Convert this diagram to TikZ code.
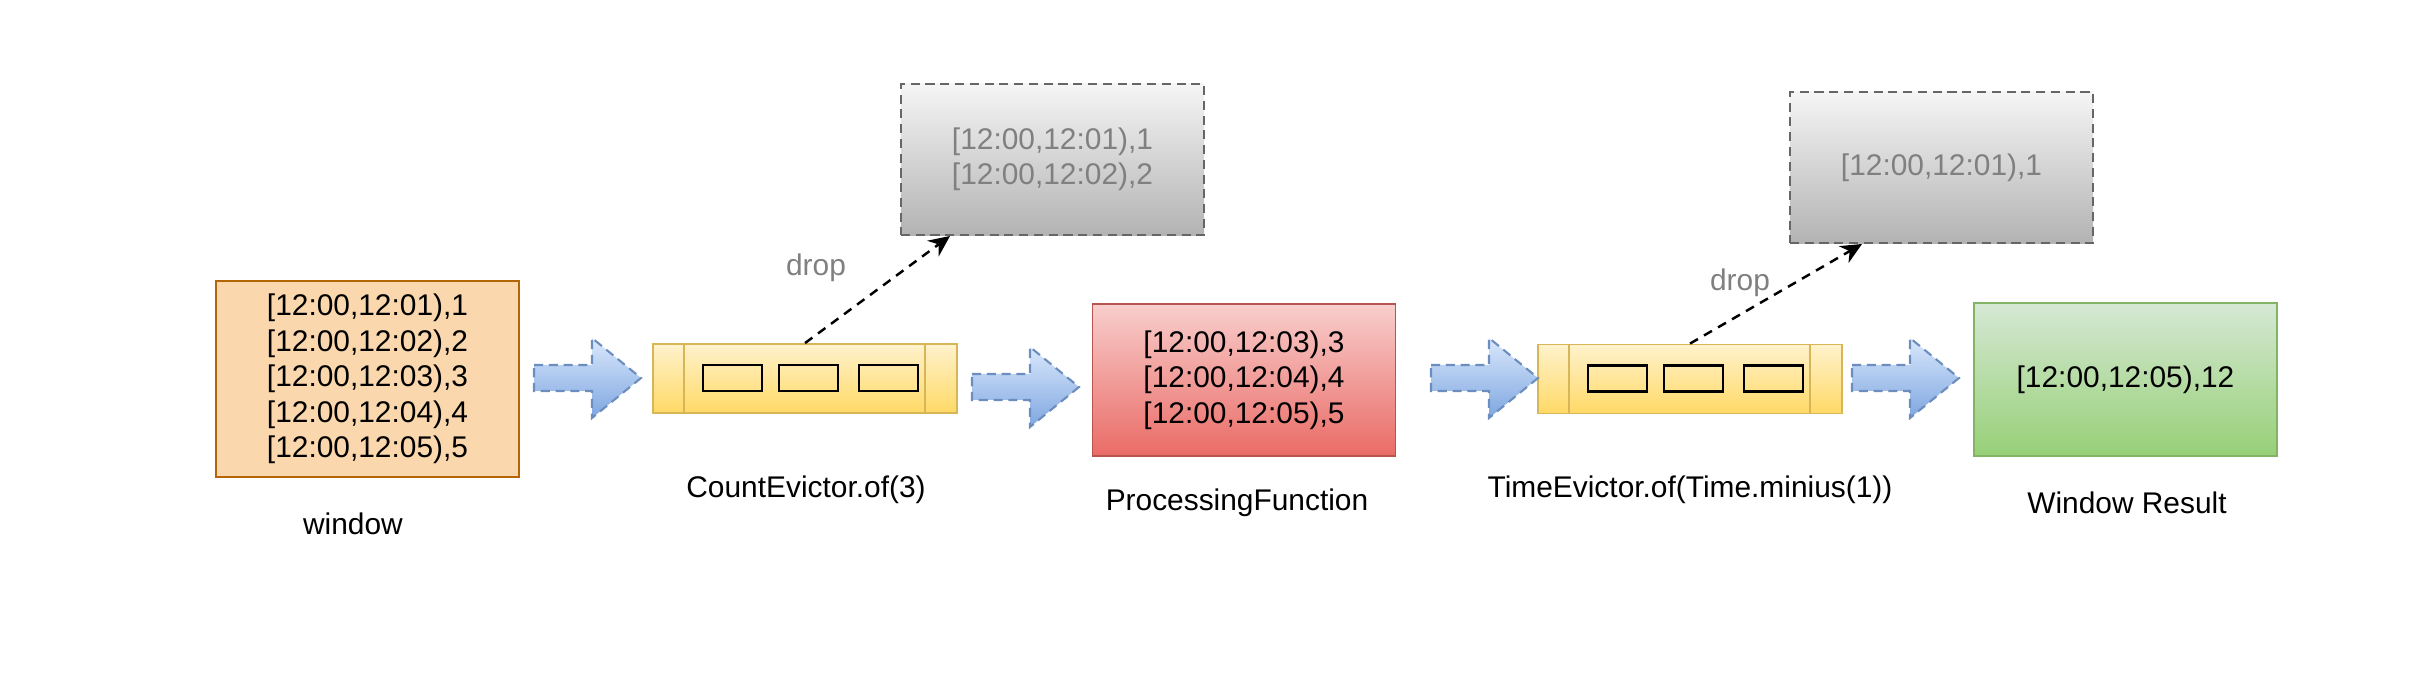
\documentclass[tikz,border=0pt]{standalone}
\usepackage{fontspec}
\setmainfont{Liberation Sans}
\usepackage{xcolor}
\usetikzlibrary{arrows.meta, calc}
\definecolor{ovul}{HTML}{FAD7AC}
\definecolor{orand}{HTML}{B46504}
\definecolor{rtop}{HTML}{F8CECC}
\definecolor{rbod}{HTML}{EA6B66}
\definecolor{rrand}{HTML}{B85450}
\definecolor{gtop}{HTML}{D5E8D4}
\definecolor{gbod}{HTML}{97D077}
\definecolor{grand}{HTML}{82B366}
\definecolor{ytop}{HTML}{FFF2CC}
\definecolor{ybod}{HTML}{FFD966}
\definecolor{yrand}{HTML}{D6B656}
\definecolor{ztop}{HTML}{F5F5F5}
\definecolor{zbod}{HTML}{B3B3B3}
\definecolor{zrand}{HTML}{666666}
\definecolor{ztekst}{HTML}{808080}
\definecolor{btop}{HTML}{DAE8FC}
\definecolor{bbod}{HTML}{7EA6E0}
\definecolor{brand}{HTML}{6C8EBF}

\begin{document}
\begin{tikzpicture}[x=0.01cm, y=-0.01cm,
    every node/.style={font=\fontsize{8.5}{10.1}\selectfont, align=center, inner sep=0pt},
    doos/.style={draw, line width=0.5pt, minimum width=3.03cm, minimum height=1.52cm},
    rij/.style={doos, top color=ytop, bottom color=ybod, draw=yrand, minimum width=3.04cm, minimum height=0.69cm},
    afval/.style={doos, top color=ztop, bottom color=zbod, draw=zrand, dash pattern=on 2.6pt off 1.6pt, text=ztekst, minimum height=1.51cm},
    blokpijl/.style={top color=btop, bottom color=bbod, draw=brand, line width=0.6pt, dash pattern=on 2.6pt off 1.6pt},
    droplijn/.style={line width=0.7pt, dash pattern=on 2.6pt off 2pt, -{Stealth[length=6pt, width=5.5pt]}}]
            \useasboundingbox (0,0) rectangle (2432,692);
            % vensters en functies
            \node[doos, fill=ovul, draw=orand, minimum height=1.96cm] (win) at (367.5,379)
            {{[}12:00,12:01),1\\ {[}12:00,12:02),2\\ {[}12:00,12:03),3\\ {[}12:00,12:04),4\\ {[}12:00,12:05),5};
            \node[doos, top color=rtop, bottom color=rbod, draw=rrand] (proc) at (1244,380)
            {{[}12:00,12:03),3\\ {[}12:00,12:04),4\\ {[}12:00,12:05),5};
            \node[doos, top color=gtop, bottom color=gbod, draw=grand, minimum height=1.53cm] (res) at (2125.5,379.5)
            {{[}12:00,12:05),12};
            % evictors
            \node[rij] (q1) at (805,378.5) {};
            \node[rij] (q2) at (1690,379) {};
            \foreach \q in {q1,q2}
            {
            \foreach \a in {32,273}
            \draw[yrand, line width=0.5pt] ($(\q.north west)+(\a,0)$) -- ($(\q.south west)+(\a,0)$);
            \foreach \a in {51,127,207}
            \draw[line width=0.8pt] ($(\q.north west)+(\a,22)$) rectangle ++(59,26);
            }
            % weggegooide elementen
            \node[afval] (drop1) at (1052.5,159.5) {{[}12:00,12:01),1\\ {[}12:00,12:02),2};
            \node[afval] (drop2) at (1941.5,167.5) {{[}12:00,12:01),1};
            \coordinate (d1) at (950,236);
            \coordinate (d2) at (1862,244);
            \draw[droplijn] (q1.north) -- (d1);
            \draw[droplijn] (q2.north) -- (d2);
            \node[text=ztekst] (t1) at (816,268) {drop};
            \node[text=ztekst] (t2) at (1740,283) {drop};
            % blokpijlen
            \foreach \x/\y in {534/378, 972/387, 1431/378, 1852/378}
            \shade[blokpijl] (\x,\y-13) -- (\x+58,\y-13) -- (\x+58,\y-40) -- (\x+107,\y)
            -- (\x+58,\y+40) -- (\x+58,\y+13) -- (\x,\y+13) -- cycle;
            % onderschriften
            \node (lwin) at (353,524) {window};
            \node (lq1) at (806,490) {CountEvictor.of(3)};
            \node (lproc) at (1237,503) {ProcessingFunction};
            \node (lq2) at (1690,490) {TimeEvictor.of(Time.minius(1))};
            \node (lres) at (2127,503) {Window Result};
        \end{tikzpicture}
\end{document}
